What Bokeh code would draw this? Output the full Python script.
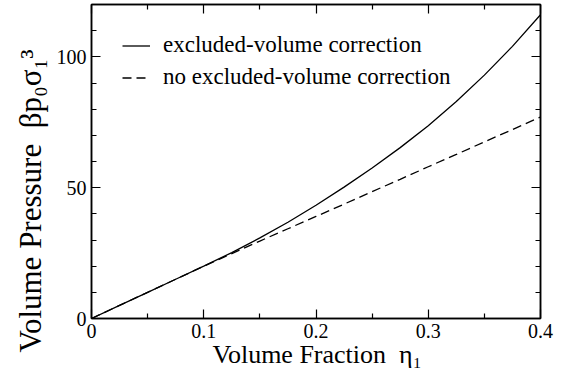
from bokeh.plotting import figure
from bokeh.models import (Range1d, FixedTicker, LinearAxis, Legend, LegendItem,
                          CustomJSTickFormatter, Title)
from bokeh.embed import file_html
from bokeh.resources import INLINE

# ---- data ----
eta = [0, 0.025, 0.05, 0.075, 0.1, 0.125, 0.15, 0.175, 0.2, 0.225, 0.25,
       0.275, 0.3, 0.325, 0.35, 0.375, 0.4]
p_excluded = [0, 5.0, 10.0, 15.0, 20.0, 25.2, 30.8, 36.8, 43.3, 50.2, 57.5,
              65.3, 73.7, 82.9, 93.0, 104.0, 116.1]
p_no_excluded = [0, 5.0, 10.0, 15.0, 20.0, 24.8, 29.6, 34.3, 39.0, 43.7, 48.5,
                 53.2, 58.0, 62.7, 67.5, 72.2, 77.0]
series_names = ["excluded-volume correction", "no excluded-volume correction"]

x_ticks = [0, 0.1, 0.2, 0.3, 0.4]
x_tick_labels = ["0", "0.1", "0.2", "0.3", "0.4"]
x_minor = [0.05, 0.15, 0.25, 0.35]
y_ticks = [0, 50, 100]
y_tick_labels = ["0", "50", "100"]
y_minor = [10, 20, 30, 40, 60, 70, 80, 90, 110]

x_label = "Volume Fraction\u2002η\u2081"
y_label = "Volume Pressure\u2002βp\u2080σ\u2081\u00b3"

FONT = "'Liberation Serif', serif"

p = figure(width=567, height=384, output_backend="svg", toolbar_location=None,
           x_range=Range1d(0, 0.4), y_range=Range1d(0, 120),
           min_border_left=91, min_border_right=27, min_border_top=4,
           min_border_bottom=66, x_axis_location=None, y_axis_location=None)
p.background_fill_color = "white"
p.border_fill_color = "white"
p.grid.visible = False
p.outline_line_color = "black"
p.outline_line_width = 1.5

xt = FixedTicker(ticks=x_ticks, minor_ticks=x_minor)
yt = FixedTicker(ticks=y_ticks, minor_ticks=y_minor)
blank = CustomJSTickFormatter(code="return '';")


def style(ax, labels):
    ax.axis_line_color = "black"
    ax.axis_line_width = 1.5
    ax.major_tick_in = 9
    ax.major_tick_out = 0
    ax.minor_tick_in = 5
    ax.minor_tick_out = 0
    ax.major_tick_line_color = "black"
    ax.minor_tick_line_color = "black"
    ax.major_tick_line_width = 1.2
    ax.minor_tick_line_width = 1.2
    if labels:
        ax.major_label_text_font = FONT
        ax.major_label_text_font_size = "20px"
        ax.major_label_text_color = "black"
        ax.major_label_standoff = 5
    else:
        ax.major_label_standoff = 0
        ax.major_label_text_font_size = "0px"


bottom = LinearAxis(ticker=xt, major_label_overrides=dict(zip(x_ticks, x_tick_labels)))
style(bottom, True)
left = LinearAxis(ticker=yt, major_label_overrides=dict(zip(y_ticks, y_tick_labels)))
style(left, True)
top = LinearAxis(ticker=xt, formatter=blank)
style(top, False)
right = LinearAxis(ticker=yt, formatter=blank)
style(right, False)
p.add_layout(bottom, "below")
p.add_layout(left, "left")
p.add_layout(top, "above")
p.add_layout(right, "right")

r1 = p.line(eta, p_excluded, line_color="black", line_width=1.3)
r2 = p.line(eta, p_no_excluded, line_color="black", line_width=1.3, line_dash="9 5")

legend = Legend(items=[LegendItem(label=series_names[0], renderers=[r1]),
                       LegendItem(label=series_names[1], renderers=[r2])],
                location=(31, 228), margin=0, padding=0, spacing=6,
                glyph_width=28, glyph_height=25, label_standoff=13,
                label_text_font=FONT, label_text_font_size="23px",
                label_text_color="black", border_line_color=None,
                background_fill_alpha=0)
p.add_layout(legend, "center")

xl = Title(text=x_label, align="left", offset=121, standoff=-6,
           text_font=FONT, text_font_size="26px", text_font_style="normal",
           text_color="black")
yl = Title(text=y_label, align="left", offset=-34, standoff=11,
           text_font=FONT, text_font_size="31px", text_font_style="normal",
           text_color="black")
p.add_layout(xl, "below")
p.add_layout(yl, "left")

open("out.html", "w").write(file_html(p, INLINE))
